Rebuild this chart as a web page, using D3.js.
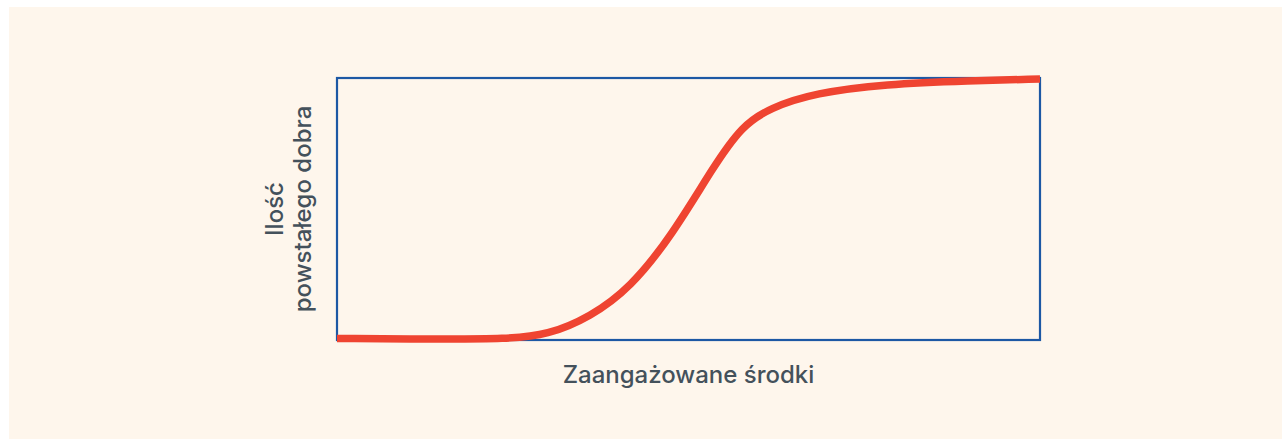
<!DOCTYPE html>
<meta charset="utf-8">
<script src="https://d3js.org/d3.v7.min.js"></script>
<style>
	body{margin:0;background:#fff;}
	#chart{position:absolute;top:0;left:0;}
</style>
<div id="chart"></div>
<script>

// resources committed (0-100) vs. amount of good produced (0-100)
var resources = [0, 14.9, 24, 30, 36, 41.7, 47.7, 53.6, 57.6, 61.6, 68, 78, 90, 100]
var goodAmount = [0.6, 0.3, 0.4, 1.9, 8.8, 19.8, 40.1, 66.4, 81.7, 88.6, 94.3, 97.7, 99, 99.6]

var xTitle = "Zaangażowane środki"
var yTitle = ["Ilość", "powstałego dobra"]

const W = 1282, H = 439
const margin = {top: 78, right: 242, bottom: 99, left: 337},
    width = W - margin.left - margin.right,
    height = H - margin.top - margin.bottom;

const root = d3.select("#chart")
  .append("svg")
    .attr("width", W)
    .attr("height", H)

// cream panel
root.append("rect")
	.attr("x", 9).attr("y", 7)
	.attr("width", W - 9).attr("height", H - 7)
	.attr("fill", "#fef6ec")

const svg = root.append("g")
    .attr("transform", `translate(${margin.left},${margin.top})`);

var xScale = d3.scaleLinear().domain([0,100]).range([0,width])
var yScale = d3.scaleLinear().domain([0,100]).range([height,0])

// frame
svg.append("rect")
	.attr("x", xScale(0)).attr("y", yScale(100))
	.attr("width", xScale(100) - xScale(0))
	.attr("height", yScale(0) - yScale(100))
	.attr("fill", "none")
	.attr("stroke", "#1d58a4")
	.attr("stroke-width", 2.2)

var pts = resources.map((r, i) => [r, goodAmount[i]])

svg.append("path")
	.datum(pts)
	.attr("fill", "none")
	.attr("stroke", "#ef4431")
	.attr("stroke-width", 7.5)
	.attr("stroke-linecap", "butt")
	.attr("d", d3.line().curve(d3.curveBasis)
		.x(d => xScale(d[0]))
		.y(d => yScale(d[1]))
	)

// axis titles
svg.append("text")
	.attr("x", width/2)
	.attr("y", height + 43)
	.attr("text-anchor", "middle")
	.attr("font-family", "Inter, sans-serif")
	.attr("font-weight", 500)
	.attr("font-size", 24)
	.attr("fill", "#44515b")
	.text(xTitle)

var yt = svg.append("text")
	.attr("transform", `translate(${-54},${height/2}) rotate(-90)`)
	.attr("text-anchor", "middle")
	.attr("font-family", "Inter, sans-serif")
	.attr("font-weight", 500)
	.attr("font-size", 24)
	.attr("fill", "#44515b")

yTitle.forEach(function(t, i){
	yt.append("tspan").attr("x", 0).attr("dy", i == 0 ? 0 : 28).text(t)
})

</script>
